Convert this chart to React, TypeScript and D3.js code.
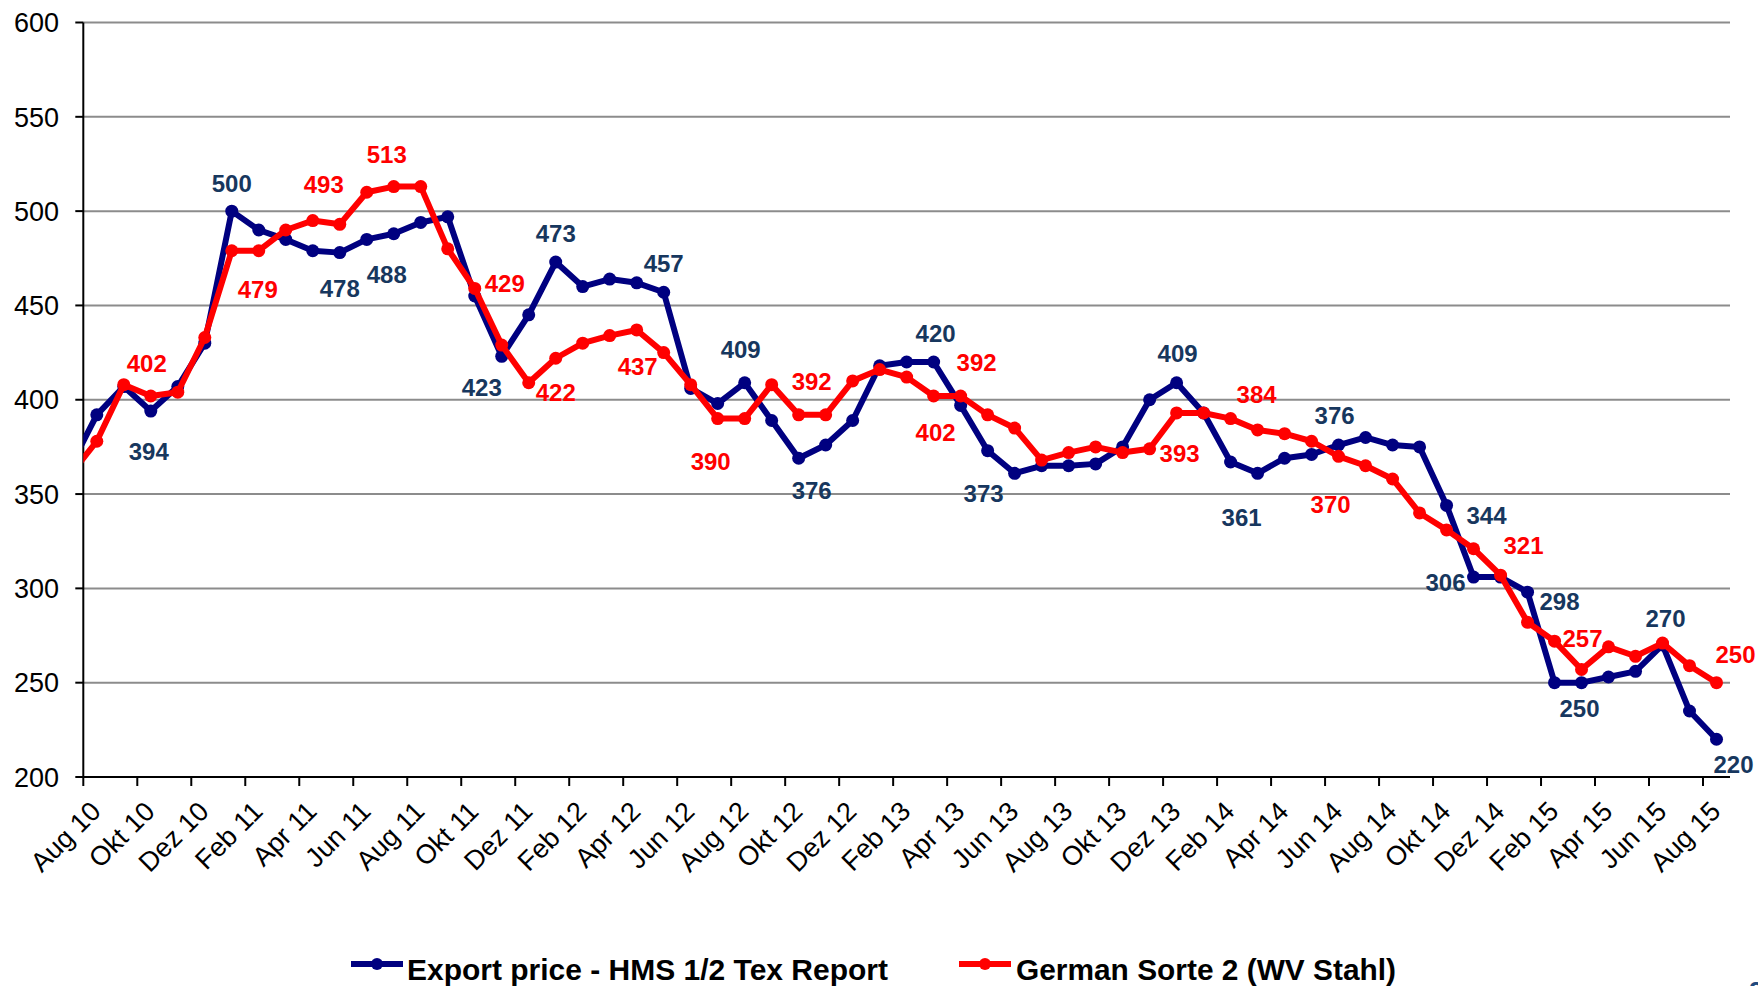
import React from 'react';
import * as d3 from 'd3';

// monthly categories, Jul 10 is only there so the line enters from the left edge
const months = [
    'Jul 10', 'Aug 10', 'Sep 10', 'Okt 10', 'Nov 10', 'Dez 10',
    'Jan 11', 'Feb 11', 'Mrz 11', 'Apr 11', 'Mai 11', 'Jun 11', 'Jul 11', 'Aug 11', 'Sep 11', 'Okt 11', 'Nov 11', 'Dez 11',
    'Jan 12', 'Feb 12', 'Mrz 12', 'Apr 12', 'Mai 12', 'Jun 12', 'Jul 12', 'Aug 12', 'Sep 12', 'Okt 12', 'Nov 12', 'Dez 12',
    'Jan 13', 'Feb 13', 'Mrz 13', 'Apr 13', 'Mai 13', 'Jun 13', 'Jul 13', 'Aug 13', 'Sep 13', 'Okt 13', 'Nov 13', 'Dez 13',
    'Jan 14', 'Feb 14', 'Mrz 14', 'Apr 14', 'Mai 14', 'Jun 14', 'Jul 14', 'Aug 14', 'Sep 14', 'Okt 14', 'Nov 14', 'Dez 14',
    'Jan 15', 'Feb 15', 'Mrz 15', 'Apr 15', 'Mai 15', 'Jun 15', 'Jul 15', 'Aug 15',
];

const tickLabels = [
    'Aug 10', 'Okt 10', 'Dez 10', 'Feb 11', 'Apr 11', 'Jun 11', 'Aug 11', 'Okt 11', 'Dez 11',
    'Feb 12', 'Apr 12', 'Jun 12', 'Aug 12', 'Okt 12', 'Dez 12', 'Feb 13', 'Apr 13', 'Jun 13',
    'Aug 13', 'Okt 13', 'Dez 13', 'Feb 14', 'Apr 14', 'Jun 14', 'Aug 14', 'Okt 14', 'Dez 14',
    'Feb 15', 'Apr 15', 'Jun 15', 'Aug 15',
];

const yTicks = [200, 250, 300, 350, 400, 450, 500, 550, 600];

const exportPrice = [
    364, 392, 407, 394, 407, 430, 500, 490, 485, 479, 478, 485, 488, 494, 497, 455, 423, 445,
    473, 460, 464, 462, 457, 406, 398, 409, 389, 369, 376, 389, 418, 420, 420, 397, 373, 361,
    365, 365, 366, 375, 400, 409, 393, 367, 361, 369, 371, 376, 380, 376, 375, 344, 306, 306,
    298, 250, 250, 253, 256, 270, 235, 220,
];

const germanSorte2 = [
    360, 378, 408, 402, 404, 433, 479, 479, 490, 495, 493, 510, 513, 513, 480, 459, 429, 409,
    422, 430, 434, 437, 425, 408, 390, 390, 408, 392, 392, 410, 416, 412, 402, 402, 392, 385,
    368, 372, 375, 372, 374, 393, 393, 390, 384, 382, 378, 370, 365, 358, 340, 331, 321, 307,
    282, 272, 257, 269, 264, 271, 259, 250,
];

const seriesNames = ['Export price - HMS 1/2 Tex Report', 'German Sorte 2 (WV Stahl)'];

// which points carry a value label
const exportLabelMonths = ['Okt 10', 'Jan 11', 'Mai 11', 'Jul 11', 'Nov 11', 'Jan 12', 'Mai 12', 'Aug 12',
    'Nov 12', 'Mrz 13', 'Mai 13', 'Dez 13', 'Mrz 14', 'Jun 14', 'Okt 14', 'Nov 14', 'Jan 15', 'Mrz 15',
    'Jun 15', 'Aug 15'];
const sorteLabelMonths = ['Okt 10', 'Feb 11', 'Mai 11', 'Jul 11', 'Nov 11', 'Jan 12', 'Apr 12', 'Jul 12',
    'Nov 12', 'Mrz 13', 'Mai 13', 'Dez 13', 'Mrz 14', 'Jun 14', 'Nov 14', 'Mrz 15', 'Aug 15'];

// label placement (dx, dy from the point), hand placed like in the original
const exportLabelOffsets: [number, number][] = [[-2, 40], [0, -28], [0, 36], [-7, 41], [-20, 31], [0, -29],
    [0, -29], [-4, -33], [-14, 45], [2, -29], [-4, 43], [1, -29], [-16, 44], [-4, -30], [40, 10], [-28, 5],
    [32, 9], [-2, 26], [3, -27], [17, 25]];
const sorteLabelOffsets: [number, number][] = [[-4, -33], [-1, 39], [-16, -40], [-7, -32], [3, -62], [0, 34],
    [1, 36], [-7, 43], [-14, -33], [2, 36], [-11, -52], [3, 40], [-1, -36], [-8, 48], [50, -3], [1, -31],
    [19, -28]];

const width = 1758;
const height = 986;
const plotL = 83.3;
const plotR = 1730;
const plotT = 22.5;
const plotB = 777;

const BLUE = '#000080';
const RED = '#FF0000';
const BLUE_TXT = '#17375E';

export default function App() {
    const x = d3.scaleLinear().domain([0.5, months.length - 0.5]).range([plotL, plotR]);
    const y = d3.scaleLinear().domain([200, 600]).range([plotB, plotT]);

    const line = d3.line<number>()
        .x((d, i) => x(i))
        .y(d => y(d));

    const series = [
        { values: exportPrice, color: BLUE, labels: exportLabelMonths, offsets: exportLabelOffsets, txt: BLUE_TXT },
        { values: germanSorte2, color: RED, labels: sorteLabelMonths, offsets: sorteLabelOffsets, txt: RED },
    ];

    const font = '"Liberation Sans", Arial, sans-serif';

    return (
        <svg width={width} height={height} style={{ position: 'absolute', left: 0, top: 0, background: '#fff' }}
             fontFamily={font}>
            <defs>
                <clipPath id="plotClip">
                    <rect x={plotL} y={0} width={plotR - plotL + 10} height={height} />
                </clipPath>
            </defs>

            {/* grid */}
            {yTicks.filter(t => t > 200).map(t => (
                <line key={t} x1={plotL} x2={plotR} y1={y(t)} y2={y(t)} stroke="#8c8c8c" strokeWidth={2} />
            ))}

            {/* y axis */}
            <line x1={plotL} x2={plotL} y1={plotT} y2={plotB} stroke="#000" strokeWidth={2} />
            {yTicks.map(t => (
                <g key={t}>
                    <line x1={plotL - 8} x2={plotL} y1={y(t)} y2={y(t)} stroke="#000" strokeWidth={2} />
                    <text x={59} y={y(t)} dy="0.36em" textAnchor="end" fontSize={27}>{t}</text>
                </g>
            ))}

            {/* x axis */}
            <line x1={plotL} x2={plotR} y1={plotB} y2={plotB} stroke="#000" strokeWidth={2} />
            {tickLabels.map(lbl => {
                const tx = x(months.indexOf(lbl) - 0.5);
                return (
                    <g key={lbl}>
                        <line x1={tx} x2={tx} y1={plotB} y2={plotB + 9} stroke="#000" strokeWidth={2} />
                        <text transform={`translate(${tx + 19},${plotB + 36}) rotate(-45)`} textAnchor="end"
                              fontSize={27}>{lbl}</text>
                    </g>
                );
            })}

            {/* series */}
            <g clipPath="url(#plotClip)">
                {series.map((s, si) => (
                    <g key={si}>
                        <path d={line(s.values) || ''} fill="none" stroke={s.color} strokeWidth={6}
                              strokeLinejoin="round" />
                        {s.values.map((v, i) => (
                            <circle key={i} cx={x(i)} cy={y(v)} r={6.5} fill={s.color} />
                        ))}
                    </g>
                ))}
            </g>

            {/* value labels */}
            {series.map((s, si) => (
                <g key={si} fontWeight="bold" fontSize={24} fill={s.txt} textAnchor="middle">
                    {s.labels.map((m, j) => {
                        const i = months.indexOf(m);
                        const [dx, dy] = s.offsets[j];
                        return (
                            <text key={m} x={x(i) + dx} y={y(s.values[i]) + dy} dy="0.36em">{s.values[i]}</text>
                        );
                    })}
                </g>
            ))}

            {/* legend */}
            {[{ lx: 351, tx: 407, tl: 481 }, { lx: 959, tx: 1016, tl: 380 }].map((p, i) => (
                <g key={i}>
                    <line x1={p.lx} x2={p.lx + 52} y1={964} y2={964} stroke={series[i].color} strokeWidth={6} />
                    <circle cx={p.lx + 26} cy={964} r={6} fill={series[i].color} />
                    <text x={p.tx} y={980} fontWeight="bold" fontSize={29} textLength={p.tl}
                          lengthAdjust="spacingAndGlyphs">{seriesNames[i]}</text>
                </g>
            ))}

            {/* cut-off page number */}
            <text x={1749} y={1000} fontWeight="bold" fontSize={26} fill="#1F497D">2</text>
        </svg>
    );
}
